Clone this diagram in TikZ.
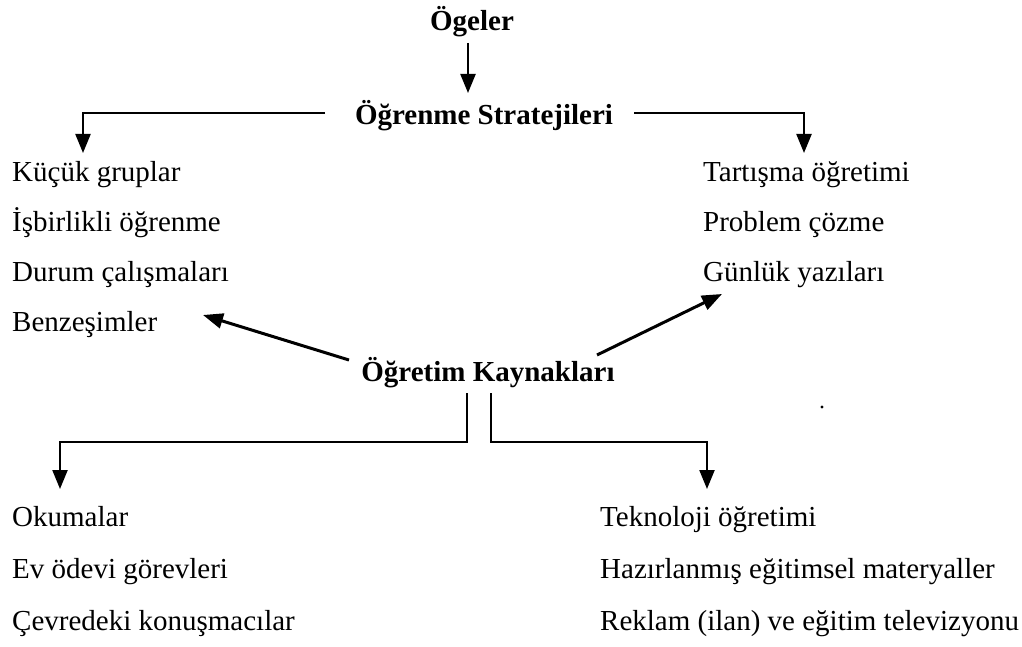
\documentclass[tikz,border=0pt]{standalone}
\usepackage{fontspec}
\setmainfont{Liberation Serif}
\usetikzlibrary{arrows.meta}
\tikzset{
  item/.style={anchor=base west, inner sep=0pt, font=\fontsize{29}{33}\selectfont},
  head/.style={anchor=base, inner sep=0pt, font=\fontsize{29}{33}\selectfont\bfseries},
  conn/.style={line width=2.2pt, -{Triangle[width=15pt,length=19pt]}},
  diag/.style={line width=3pt, -{Triangle[width=15pt,length=20pt]}}
}
\begin{document}
\begin{tikzpicture}[x=1pt,y=-1pt]
\useasboundingbox (0,0) rectangle (1022,647);
% headings
\node[head] (og) at (472,31) {Ögeler};
\node[head] (os) at (484,125) {Öğrenme Stratejileri};
\node[head] (ok) at (488,381) {Öğretim Kaynakları};
% left list
\node[item] (l1) at (12,182) {Küçük gruplar};
\node[item] (l2) at (12,231) {İşbirlikli öğrenme};
\node[item] (l3) at (12,281) {Durum çalışmaları};
\node[item] (l4) at (12,331) {Benzeşimler};
% right list
\node[item] (r1) at (703,182) {Tartışma öğretimi};
\node[item] (r2) at (703,231) {Problem çözme};
\node[item] (r3) at (703,281) {Günlük yazıları};
% bottom left
\node[item] (b1) at (12,526) {Okumalar};
\node[item] (b2) at (12,578) {Ev ödevi görevleri};
\node[item] (b3) at (12,630) {Çevredeki konuşmacılar};
% bottom right
\node[item] (c1) at (600,526) {Teknoloji öğretimi};
\node[item] (c2) at (600,578) {Hazırlanmış eğitimsel materyaller};
\node[item] (c3) at (600,630) {Reklam (ilan) ve eğitim televizyonu};
% connector coordinates
\coordinate (ogB) at (468,43);
\coordinate (osT) at (468,93);
\coordinate (osL) at (325,113);
\coordinate (tipL) at (83,153);
\coordinate (osR) at (634,113);
\coordinate (tipR) at (804,153);
\coordinate (okL) at (349,360);
\coordinate (tipBz) at (203,315);
\coordinate (okR) at (597,355);
\coordinate (tipGn) at (722,294);
\coordinate (vL) at (467,393);
\coordinate (vR) at (491,393);
\coordinate (tipO) at (60,489);
\coordinate (tipT) at (707,489);
% arrows
\draw[conn] (ogB) -- (osT);
\draw[conn] (osL) -| (tipL);
\draw[conn] (osR) -| (tipR);
\draw[diag] (okL) -- (tipBz);
\draw[diag] (okR) -- (tipGn);
\draw[conn] (vL) -- (467,442) -| (tipO);
\draw[conn] (vR) -- (491,442) -| (tipT);
% stray dot
\fill (822,407) circle (1.6pt);
\end{tikzpicture}
\end{document}
